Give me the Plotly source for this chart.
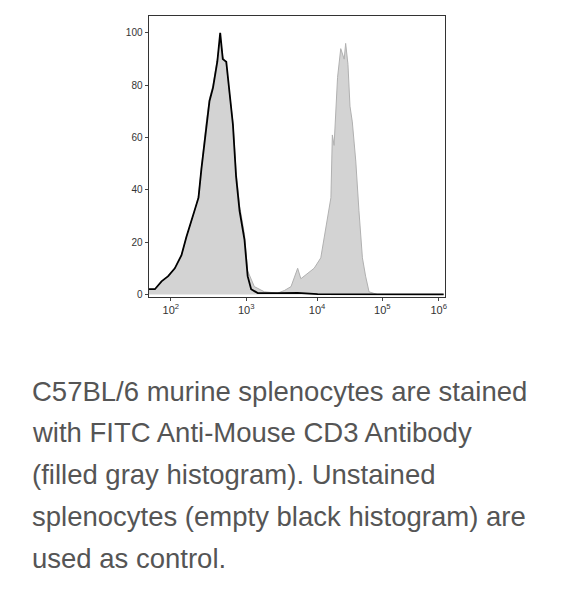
import plotly.graph_objects as go

# channel scale 0..1024, values as % of max
ctrl_x = [1, 22, 45, 68, 91, 114, 131, 160, 173, 183, 200, 211, 223, 238, 248, 257, 269, 280, 292, 303, 315, 332, 343, 355, 378, 447, 516, 585, 1021]
ctrl_y = [2, 2, 5, 7, 10, 15, 22, 32, 37, 48, 65, 74, 79, 89, 100, 90, 89, 77, 65, 45, 32, 21, 7, 2, 0.5, 0.5, 0.6, 0.1, 0]

cd3_x = [1, 22, 45, 68, 91, 114, 131, 160, 173, 183, 200, 211, 223, 238, 248, 257, 269, 280, 292, 303, 315, 332, 343,
         366, 401, 447, 470, 493, 516, 527, 550, 573, 596, 608, 619, 631, 636, 642, 654, 665, 677, 682, 690, 697, 705,
         717, 728, 740, 751, 763, 780, 792, 1021]
cd3_y = [2, 2, 5, 7, 10, 15, 22, 32, 38, 49, 66, 75, 80, 90, 98, 91, 88, 77, 66, 47, 34, 23, 9,
         3, 1, 0.5, 1.5, 3, 10, 6, 8, 10, 14, 22, 29, 37, 61, 57, 83, 94, 90, 96, 88, 72, 66,
         51, 32, 14, 7, 1, 0.4, 0, 0]

tick_ch = [77, 338, 583, 809, 1004]
tick_txt = ["10<sup>2</sup>", "10<sup>3</sup>", "10<sup>4</sup>", "10<sup>5</sup>", "10<sup>6</sup>"]

caption = ["C57BL/6 murine splenocytes are stained", "with FITC Anti-Mouse CD3 Antibody",
           "(filled gray histogram). Unstained", "splenocytes (empty black histogram) are",
           "used as control."]

fig = go.Figure()
fig.add_trace(go.Scatter(x=cd3_x, y=cd3_y, mode="lines", fill="tozeroy",
                         fillcolor="#d3d3d3", line=dict(color="#b0b0b0", width=1)))
fig.add_trace(go.Scatter(x=ctrl_x, y=ctrl_y, mode="lines", line=dict(color="black", width=1.8)))

W, H = 584, 593
fig.update_layout(
    width=W, height=H, margin=dict(l=0, r=0, t=0, b=0),
    plot_bgcolor="white", paper_bgcolor="white", showlegend=False,
    xaxis=dict(domain=[141 / W, 438 / W], range=[0, 1024], tickvals=tick_ch, ticktext=tick_txt,
               showgrid=False, zeroline=False, showline=True, linecolor="#333", mirror=True,
               ticks="outside", ticklen=3, tickfont=dict(size=11, color="#333", family="Arial")),
    yaxis=dict(domain=[1 - 290 / H, 1 - 8 / H], range=[-0.8, 106.5], tickvals=[0, 20, 40, 60, 80, 100],
               showgrid=False, zeroline=False, showline=True, linecolor="#333", mirror=True,
               ticks="outside", ticklen=3, tickfont=dict(size=10, color="#333", family="Arial")),
)
for i, line in enumerate(caption):
    fig.add_annotation(x=22 / W, y=1 - (385 + 42 * i) / H, xref="paper", yref="paper",
                       xanchor="left", yanchor="middle", text=line, showarrow=False,
                       font=dict(size=27.5, color="#555", family="Liberation Sans"))
fig.write_html("out.html")
